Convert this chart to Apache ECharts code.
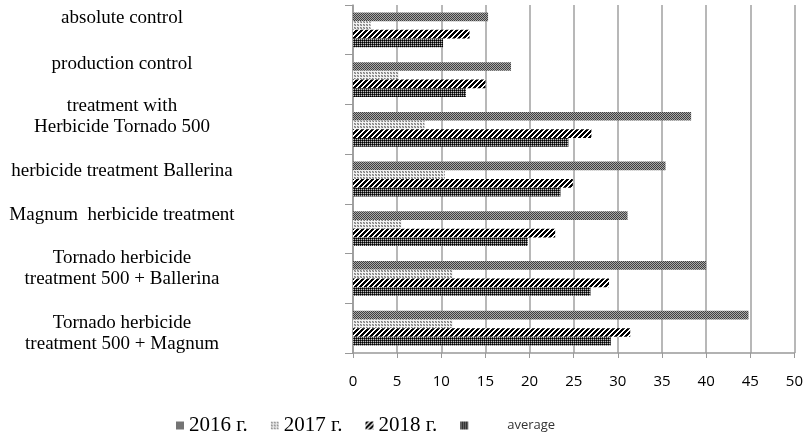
<!DOCTYPE html>
<html><head><meta charset="utf-8">
<script src="https://cdn.jsdelivr.net/npm/echarts@6/dist/echarts.min.js"></script>
<style>html,body{margin:0;padding:0;background:#fff}#c{width:806px;height:435px}</style>
</head><body><div id="c"></div>
<script>
var categories = ['absolute control', 'production control', 'treatment with\nHerbicide Tornado 500', 'herbicide treatment Ballerina', 'Magnum  herbicide treatment', 'Tornado herbicide\ntreatment 500 + Ballerina', 'Tornado herbicide\ntreatment 500 + Magnum'];
var seriesNames = ['2016 г.', '2017 г.', '2018 г.', 'average'];
var v2016 = [15.3, 17.9, 38.3, 35.4, 31.1, 40.0, 44.8];
var v2017 = [2.0, 5.2, 8.1, 10.4, 5.5, 11.3, 11.3];
var v2018 = [13.2, 15.0, 27.0, 24.9, 22.9, 29.0, 31.4];
var vAvg = [10.2, 12.8, 24.4, 23.5, 19.8, 26.9, 29.2];
var xTicks = [0, 5, 10, 15, 20, 25, 30, 35, 40, 45, 50];

// per-label vertical nudge (px, negative = up), mimicking the source layout
var labelShift = [-12, -16, -13, -8, -14, -10, 5];

function makePattern(size, fn) {
  var c = document.createElement('canvas');
  c.width = size; c.height = size;
  var ctx = c.getContext('2d');
  for (var y = 0; y < size; y++) for (var x = 0; x < size; x++) {
    ctx.fillStyle = fn(x, y);
    ctx.fillRect(x, y, 1, 1);
  }
  return { image: c, repeat: 'repeat' };
}
var p2016 = makePattern(2, function (x, y) { return ((x + y) % 2 === 0) ? '#404040' : '#a8a8a8'; });
var p2017 = makePattern(3, function (x, y) { return (x < 2 && y < 2) ? ((x + y) % 2 === 0 ? '#7e7e7e' : '#b4b4b4') : '#f2f2f2'; });
var p2018 = makePattern(5, function (x, y) { return ((x + y) % 5 < 3) ? '#000000' : '#ffffff'; });
var pAvg = makePattern(4, function (x, y) { return (x % 2 === 1 && y % 2 === 1) ? '#bdbdbd' : ((x + y) % 2 === 0 ? '#000000' : '#3a3a3a'); });
var patterns = [p2016, p2017, p2018, pAvg];
var dataSets = [v2016, v2017, v2018, vAvg];

var baseFont = { fontFamily: 'Liberation Serif', fontSize: 19, lineHeight: 21, color: '#000', align: 'center' };
var rich = { n: Object.assign({}, baseFont) };
labelShift.forEach(function (s, i) {
  rich['e' + i] = { fontSize: 1, lineHeight: Math.abs(2 * s), align: 'center' };
});

var chart = echarts.init(document.getElementById('c'));
var series = seriesNames.map(function (n, i) {
  return {
    name: n, type: 'bar', data: dataSets[i],
    barGap: '0%', barCategoryGap: '30%',
    itemStyle: { color: patterns[i] }
  };
});
chart.setOption({
  animation: false,
  grid: { left: 353, right: 11, top: 5, bottom: 82, containLabel: false },
  legend: {
    left: 171, top: 410, itemWidth: 8, itemHeight: 8, itemGap: 23,
    icon: 'rect',
    data: [
      { name: '2016 г.', textStyle: { fontFamily: 'Liberation Serif', fontSize: 21, color: '#000' } },
      { name: '2017 г.', textStyle: { fontFamily: 'Liberation Serif', fontSize: 21, color: '#000' } },
      { name: '2018 г.', textStyle: { fontFamily: 'Liberation Serif', fontSize: 21, color: '#000' } },
      { name: 'average', textStyle: { fontFamily: 'Open Sans', fontSize: 13, color: '#333', padding: [0, 0, 0, 34] } }
    ]
  },
  xAxis: {
    type: 'value', min: 0, max: 50, interval: 5,
    axisLine: { show: true, lineStyle: { color: '#999', width: 1.5 } },
    axisTick: { show: true, length: 5, lineStyle: { color: '#999' } },
    splitLine: { show: true, lineStyle: { color: '#a0a0a0', width: 1.5 } },
    axisLabel: { color: '#000', fontFamily: 'Open Sans', fontSize: 15, margin: 21 }
  },
  yAxis: {
    type: 'category', inverse: true, data: categories,
    axisLine: { show: true, lineStyle: { color: '#999', width: 1.5 } },
    axisTick: { show: true, length: 8, lineStyle: { color: '#999' } },
    axisLabel: {
      interval: 0, color: '#000', fontFamily: 'Liberation Serif', fontSize: 19, lineHeight: 21,
      align: 'center', margin: 231, rich: rich,
      formatter: function (value, idx) {
        var body = value.split('\n').map(function (ln) { return '{n|' + ln + '}'; }).join('\n');
        var s = labelShift[idx] || 0;
        if (s < 0) return body + '\n{e' + idx + '| }';
        if (s > 0) return '{e' + idx + '| }\n' + body;
        return body;
      }
    }
  },
  series: series
});
</script></body></html>
